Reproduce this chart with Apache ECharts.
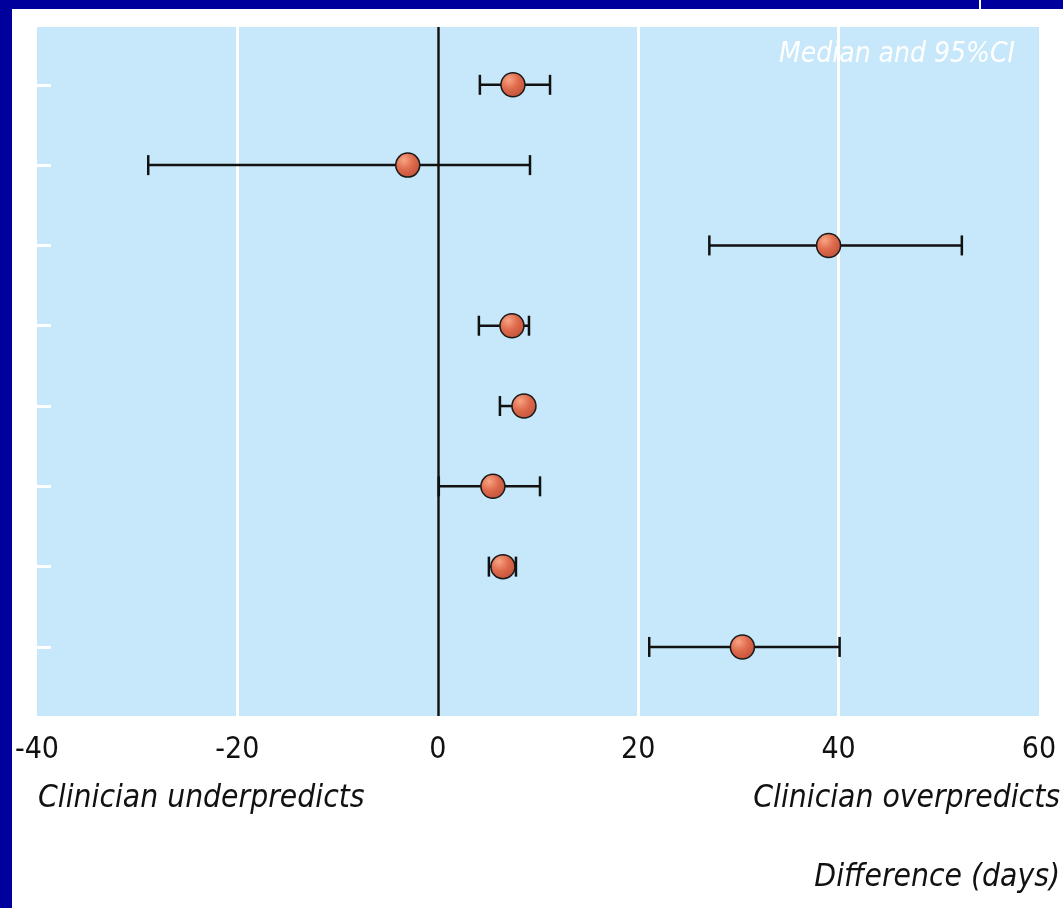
<!DOCTYPE html>
<html>
<head>
<meta charset="utf-8">
<script src="https://cdn.jsdelivr.net/npm/echarts@6/dist/echarts.min.js"></script>
<style>
html,body{margin:0;padding:0;background:#fff;}
#chart{width:1063px;height:908px;}
</style>
</head>
<body>
<div id="chart"></div>
<script>
// Rows (top to bottom), position index 1..8
const rows = [1, 2, 3, 4, 5, 6, 7, 8];
const medians = [7.5, -3.0, 39.0, 7.4, 8.6, 5.5, 6.5, 30.4];
const lowerCI = [4.2, -28.9, 27.1, 4.1, 6.2, 0.1, 5.1, 21.1];
const upperCI = [11.2, 9.2, 52.3, 9.1, 9.3, 10.2, 7.8, 40.1];
const xTicks = [-40, -20, 0, 20, 40, 60];

const FONT = "'Liberation Sans Narrow', 'DejaVu Sans Condensed', 'Liberation Sans', sans-serif";

const chart = echarts.init(document.getElementById('chart'), null, {renderer: 'canvas'});

const errData = rows.map((r, i) => [lowerCI[i], upperCI[i], r]);
const ptData = rows.map((r, i) => [medians[i], r]);

const option = {
  animation: false,
  backgroundColor: '#ffffff',
  grid: {
    left: 37, top: 27, width: 1002, height: 689,
    show: true, backgroundColor: '#c7e8fa', borderWidth: 0
  },
  xAxis: {
    type: 'value',
    min: xTicks[0], max: xTicks[xTicks.length - 1], interval: 20,
    axisLine: {show: false},
    axisTick: {show: false},
    splitLine: {show: true, showMinLine: false, showMaxLine: false,
      lineStyle: {color: '#ffffff', width: 3}},
    axisLabel: {fontSize: 30, color: '#111', margin: 19, fontFamily: FONT}
  },
  yAxis: {
    type: 'value',
    inverse: true,
    min: 0.28, max: 8.86,
    axisLine: {show: false, onZero: false},
    axisLabel: {show: false},
    splitLine: {show: false},
    axisTick: {show: true, inside: true, length: 14, customValues: rows,
      lineStyle: {color: '#ffffff', width: 3}}
  },
  graphic: [
    {type: 'rect', shape: {x: 0, y: 0, width: 1063, height: 9}, style: {fill: '#00009c'}, z: 100},
    {type: 'rect', shape: {x: 979, y: 0, width: 2, height: 9}, style: {fill: '#ffffff'}, z: 101},
    {type: 'rect', shape: {x: 0, y: 0, width: 12, height: 908}, style: {fill: '#00009c'}, z: 100},
    {type: 'text', x: 1015, y: 55, z: 50, style: {text: 'Median and 95%CI', fill: '#ffffff',
      font: 'italic 28px ' + FONT, textAlign: 'right', textVerticalAlign: 'middle'}},
    {type: 'text', x: 38, y: 799, style: {text: 'Clinician underpredicts', fill: '#111',
      font: 'italic 31.5px ' + FONT, textAlign: 'left', textVerticalAlign: 'middle'}},
    {type: 'text', x: 1060, y: 799, style: {text: 'Clinician overpredicts', fill: '#111',
      font: 'italic 31.5px ' + FONT, textAlign: 'right', textVerticalAlign: 'middle'}},
    {type: 'text', x: 1060, y: 878, style: {text: 'Difference (days)', fill: '#111',
      font: 'italic 31.5px ' + FONT, textAlign: 'right', textVerticalAlign: 'middle'}}
  ],
  series: [
    {
      type: 'custom',
      data: errData,
      z: 3,
      renderItem: function (params, api) {
        const lo = api.coord([api.value(0), api.value(2)]);
        const hi = api.coord([api.value(1), api.value(2)]);
        const cap = 10;
        const st = {stroke: '#111', lineWidth: 2.5};
        return {
          type: 'group',
          children: [
            {type: 'line', shape: {x1: lo[0], y1: lo[1], x2: hi[0], y2: hi[1]}, style: st},
            {type: 'line', shape: {x1: lo[0], y1: lo[1] - cap, x2: lo[0], y2: lo[1] + cap}, style: st},
            {type: 'line', shape: {x1: hi[0], y1: hi[1] - cap, x2: hi[0], y2: hi[1] + cap}, style: st}
          ]
        };
      },
      markLine: {
        silent: true,
        symbol: 'none',
        label: {show: false},
        lineStyle: {color: '#111', width: 2.5, type: 'solid'},
        data: [{xAxis: 0}]
      }
    },
    {
      type: 'scatter',
      data: ptData,
      z: 5,
      symbol: 'circle',
      symbolSize: 24,
      itemStyle: {
        color: new echarts.graphic.RadialGradient(0.35, 0.3, 0.75, [
          {offset: 0, color: '#f7a483'},
          {offset: 0.5, color: '#df6a4c'},
          {offset: 1, color: '#c0523a'}
        ]),
        borderColor: '#1a1a1a',
        borderWidth: 1.5,
        opacity: 1
      }
    }
  ]
};
chart.setOption(option);
</script>
</body>
</html>
